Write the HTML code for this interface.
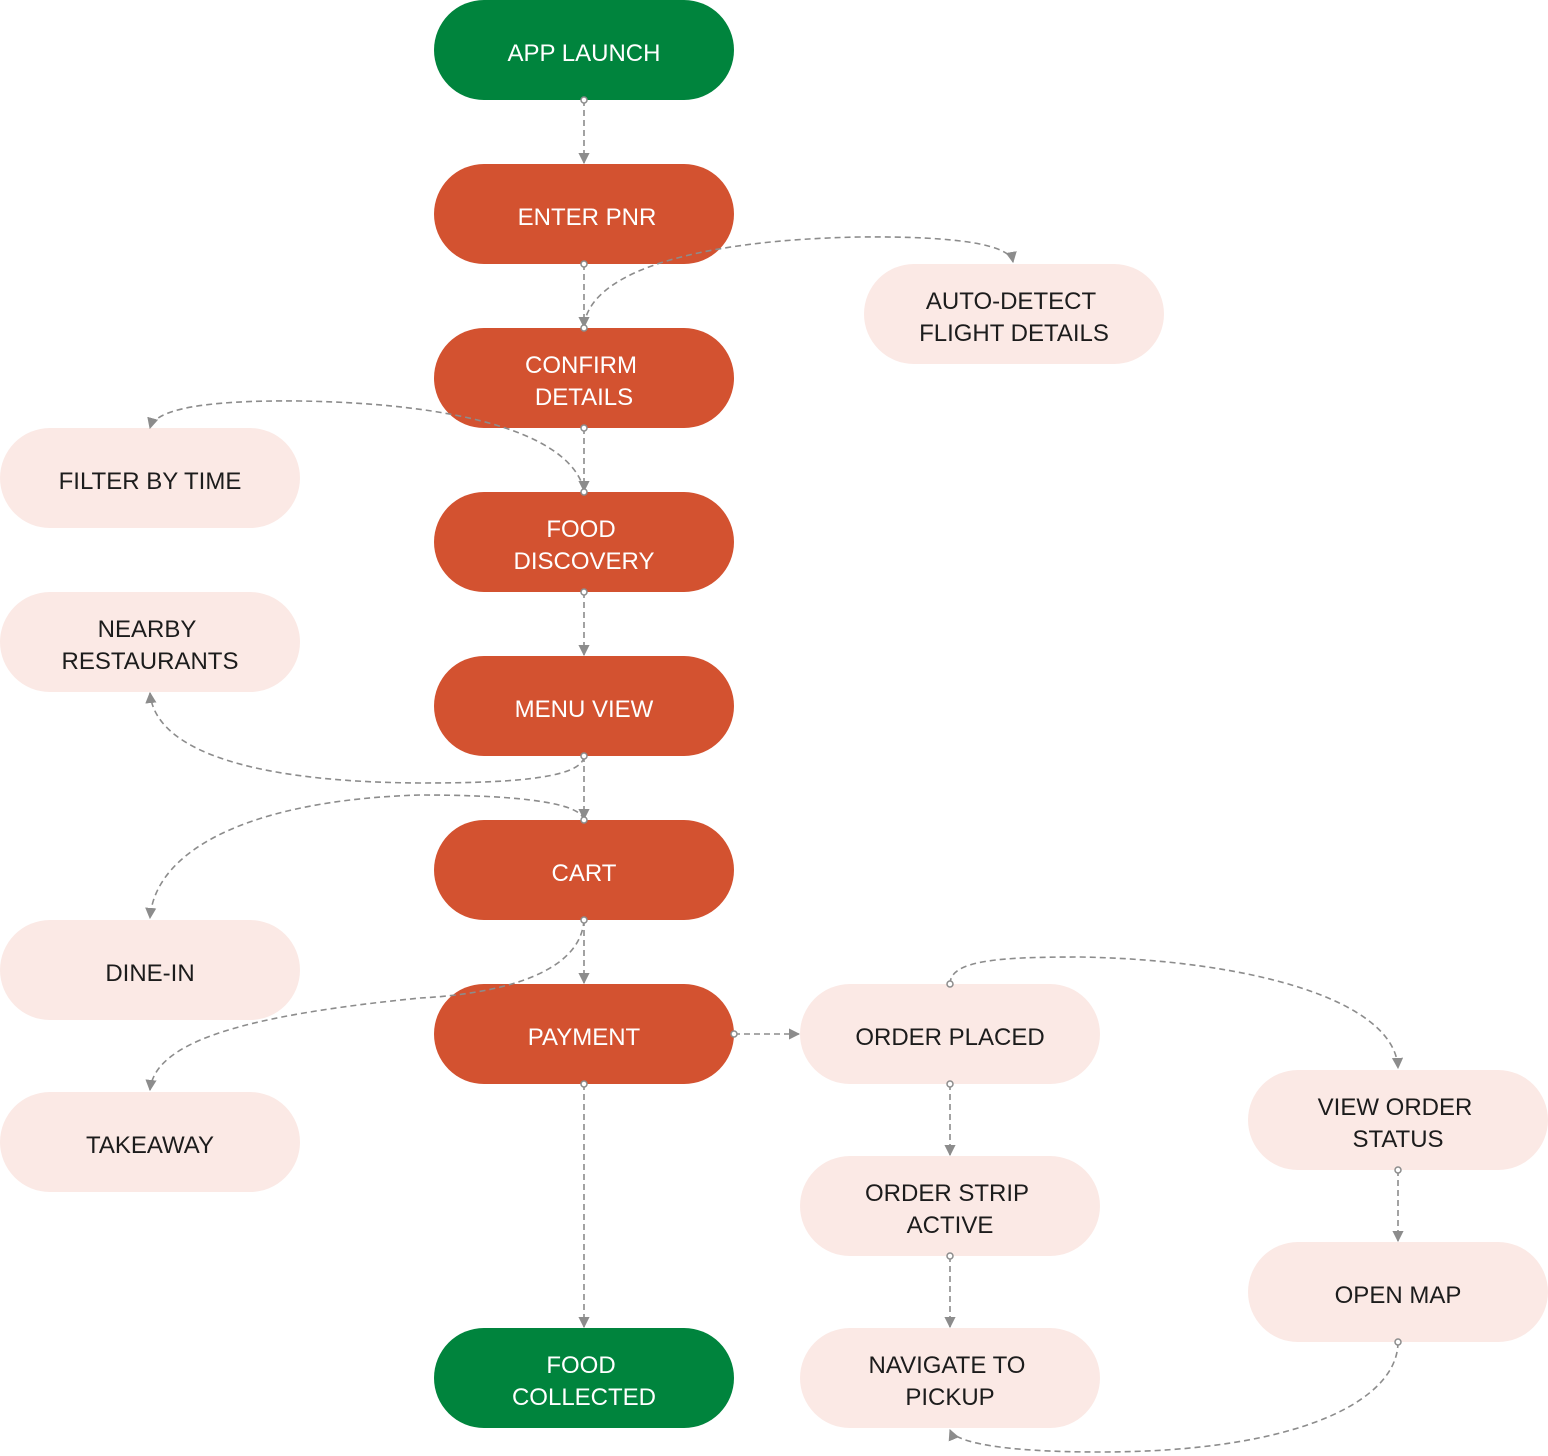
<!DOCTYPE html>
<html><head><meta charset="utf-8"><style>
html,body{margin:0;padding:0;background:#fff;}
svg{display:block;}
text{font-family:"Liberation Sans",sans-serif;font-size:24px;text-anchor:middle;}
.o{fill:#D35230}.g{fill:#00843D}.p{fill:#FBE9E5}
.w{fill:#fff}.d{fill:#1c1c1c}
.e{fill:none;stroke:#8c8c8c;stroke-width:1.6;stroke-dasharray:6 4}
.c{fill:#fff;stroke:#8c8c8c;stroke-width:1.5}
</style></head><body>
<svg width="1548" height="1456" viewBox="0 0 1548 1456" xmlns="http://www.w3.org/2000/svg">
<defs><marker id="a" viewBox="0 0 10 10" refX="9" refY="5" markerWidth="7" markerHeight="7" orient="auto"><path d="M0,0 L10,5 L0,10 z" fill="#8c8c8c"/></marker></defs>
<rect x="434" y="0" width="300" height="100" rx="50" class="g"/>
<rect x="434" y="164" width="300" height="100" rx="50" class="o"/>
<rect x="434" y="328" width="300" height="100" rx="50" class="o"/>
<rect x="434" y="492" width="300" height="100" rx="50" class="o"/>
<rect x="434" y="656" width="300" height="100" rx="50" class="o"/>
<rect x="434" y="820" width="300" height="100" rx="50" class="o"/>
<rect x="434" y="984" width="300" height="100" rx="50" class="o"/>
<rect x="434" y="1328" width="300" height="100" rx="50" class="g"/>
<rect x="864" y="264" width="300" height="100" rx="50" class="p"/>
<rect x="0" y="428" width="300" height="100" rx="50" class="p"/>
<rect x="0" y="592" width="300" height="100" rx="50" class="p"/>
<rect x="0" y="920" width="300" height="100" rx="50" class="p"/>
<rect x="0" y="1092" width="300" height="100" rx="50" class="p"/>
<rect x="800" y="984" width="300" height="100" rx="50" class="p"/>
<rect x="800" y="1156" width="300" height="100" rx="50" class="p"/>
<rect x="800" y="1328" width="300" height="100" rx="50" class="p"/>
<rect x="1248" y="1070" width="300" height="100" rx="50" class="p"/>
<rect x="1248" y="1242" width="300" height="100" rx="50" class="p"/>

<text x="584" y="61" class="w">APP LAUNCH</text>
<text x="587" y="225" class="w">ENTER PNR</text>
<text x="581" y="373" class="w">CONFIRM</text><text x="584" y="405" class="w">DETAILS</text>
<text x="581" y="537" class="w">FOOD</text><text x="584" y="569" class="w">DISCOVERY</text>
<text x="584" y="717" class="w">MENU VIEW</text>
<text x="584" y="881" class="w">CART</text>
<text x="584" y="1045" class="w">PAYMENT</text>
<text x="581" y="1373" class="w">FOOD</text><text x="584" y="1405" class="w">COLLECTED</text>
<text x="1011" y="309" class="d">AUTO-DETECT</text><text x="1014" y="341" class="d">FLIGHT DETAILS</text>
<text x="150" y="489" class="d">FILTER BY TIME</text>
<text x="147" y="637" class="d">NEARBY</text><text x="150" y="669" class="d">RESTAURANTS</text>
<text x="150" y="981" class="d">DINE-IN</text>
<text x="150" y="1153" class="d">TAKEAWAY</text>
<text x="950" y="1045" class="d">ORDER PLACED</text>
<text x="947" y="1201" class="d">ORDER STRIP</text><text x="950" y="1233" class="d">ACTIVE</text>
<text x="947" y="1373" class="d">NAVIGATE TO</text><text x="950" y="1405" class="d">PICKUP</text>
<text x="1395" y="1115" class="d">VIEW ORDER</text><text x="1398" y="1147" class="d">STATUS</text>
<text x="1398" y="1303" class="d">OPEN MAP</text>

<g>
<path class="e" marker-end="url(#a)" d="M584,100 V163"/>
<path class="e" marker-end="url(#a)" d="M584,264 V327"/>
<path class="e" marker-end="url(#a)" d="M584,428 V491"/>
<path class="e" marker-end="url(#a)" d="M584,592 V655"/>
<path class="e" marker-end="url(#a)" d="M584,756 V819"/>
<path class="e" marker-end="url(#a)" d="M584,920 V983"/>
<path class="e" marker-end="url(#a)" d="M584,1084 V1327"/>
<path class="e" marker-end="url(#a)" d="M734,1034 H799"/>
<path class="e" marker-end="url(#a)" d="M950,1084 V1155"/>
<path class="e" marker-end="url(#a)" d="M950,1256 V1327"/>
<path class="e" marker-end="url(#a)" d="M1398,1170 V1241"/>
<path class="e" marker-end="url(#a)" d="M584,325 C592,270 700,240 860,237 C960,236 1010,245 1013,262"/>
<path class="e" marker-end="url(#a)" d="M584,490 C572,440 480,404 300,401 C200,400 155,410 150,428"/>
<path class="e" marker-end="url(#a)" d="M584,757 C580,780 500,783 420,783 C250,782 155,750 150,693"/>
<path class="e" marker-end="url(#a)" d="M584,820 C580,800 500,795 420,795 C250,800 155,850 150,918"/>
<path class="e" marker-end="url(#a)" d="M584,920 C580,980 480,995 420,998 C250,1015 155,1040 150,1090"/>
<path class="e" marker-end="url(#a)" d="M950,984 C950,960 1000,957 1080,957 C1250,960 1395,1000 1398,1068"/>
<path class="e" marker-end="url(#a)" d="M1398,1342 C1398,1400 1300,1452 1100,1452 C1000,1452 955,1442 950,1430"/>
</g>
<g>
<circle class="c" cx="584" cy="100" r="3"/><circle class="c" cx="584" cy="264" r="3"/><circle class="c" cx="584" cy="328" r="3"/>
<circle class="c" cx="584" cy="428" r="3"/><circle class="c" cx="584" cy="492" r="3"/><circle class="c" cx="584" cy="592" r="3"/>
<circle class="c" cx="584" cy="756" r="3"/><circle class="c" cx="584" cy="820" r="3"/><circle class="c" cx="584" cy="920" r="3"/>
<circle class="c" cx="584" cy="1084" r="3"/><circle class="c" cx="734" cy="1034" r="3"/><circle class="c" cx="950" cy="984" r="3"/>
<circle class="c" cx="950" cy="1084" r="3"/><circle class="c" cx="950" cy="1256" r="3"/><circle class="c" cx="1398" cy="1170" r="3"/>
<circle class="c" cx="1398" cy="1342" r="3"/>
</g>
</svg>
</body></html>
